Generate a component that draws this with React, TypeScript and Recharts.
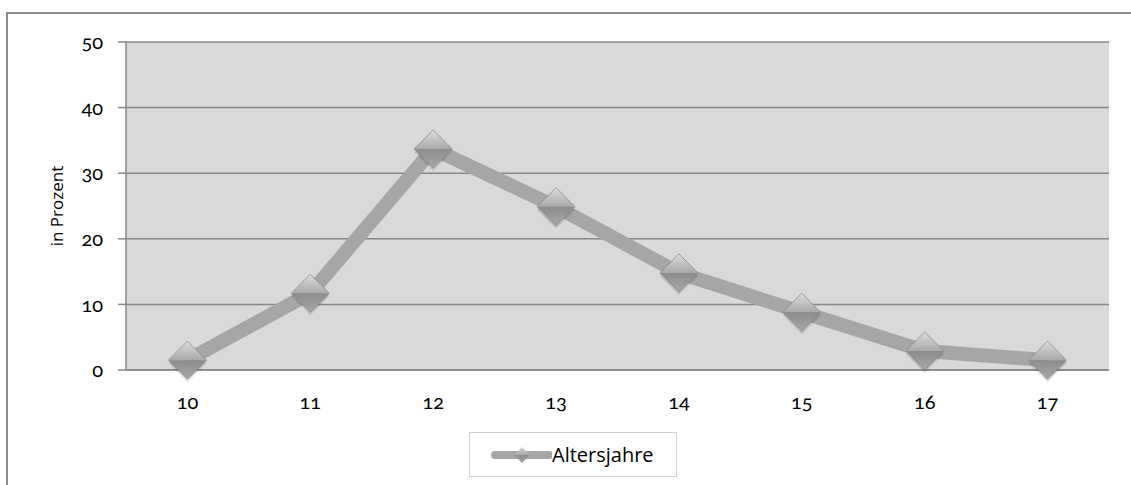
import React from 'react';
import { LineChart, Line, XAxis, YAxis, CartesianGrid, Label } from 'recharts';

const ages = [10, 11, 12, 13, 14, 15, 16, 17];
const percent = [1.5, 11.7, 33.7, 24.9, 14.8, 8.8, 2.9, 1.5];
const yTicks = [0, 10, 20, 30, 40, 50];
const boundaryTicks = [9.5, 10.5, 11.5, 12.5, 13.5, 14.5, 15.5, 16.5, 17.5];
const seriesName = 'Altersjahre';
const yTitle = 'in Prozent';

const data = ages.map((a, i) => ({ age: a, value: percent[i] }));

const FONT_NUM = 'Lato, "Open Sans", sans-serif';
const FONT_TXT = '"Open Sans", "Noto Sans", sans-serif';

const R = 19;

const Diamond = (props: any) => {
  const { cx, cy } = props;
  if (cx == null || cy == null) return null;
  const r = R;
  return (
    <g>
      <polygon
        points={`${cx},${cy - r + 3} ${cx + r},${cy + 3} ${cx},${cy + r + 3} ${cx - r},${cy + 3}`}
        fill="#000"
        opacity={0.12}
      />
      <polygon points={`${cx},${cy - r} ${cx + r},${cy} ${cx - r},${cy}`} fill="url(#dTop)" />
      <polygon points={`${cx - r},${cy} ${cx + r},${cy} ${cx},${cy + r}`} fill="url(#dBot)" />
      <polygon
        points={`${cx},${cy - r} ${cx + r},${cy} ${cx},${cy + r} ${cx - r},${cy}`}
        fill="none"
        stroke="#8a8a8a"
        strokeWidth={0.8}
      />
    </g>
  );
};

const renderDot = (props: any) => <Diamond key={props.index} cx={props.cx} cy={props.cy} />;

const LegendBox = () => (
  <div
    style={{
      position: 'absolute',
      left: 469,
      top: 432,
      width: 208,
      height: 45,
      border: '1px solid #d0d0d0',
      background: '#fff',
      boxSizing: 'border-box',
      display: 'flex',
      alignItems: 'center',
    }}
  >
    <svg width={82} height={43} style={{ display: 'block' }}>
      <defs>
        <linearGradient id="lTop" x1="0" y1="0" x2="0" y2="1">
          <stop offset="0" stopColor="#d8d8d8" />
          <stop offset="1" stopColor="#a8a8a8" />
        </linearGradient>
        <linearGradient id="lBot" x1="0" y1="0" x2="0" y2="1">
          <stop offset="0" stopColor="#8e8e8e" />
          <stop offset="1" stopColor="#a5a5a5" />
        </linearGradient>
      </defs>
      <line x1={25} y1={22} x2={79} y2={22} stroke="#a6a6a6" strokeWidth={8} strokeLinecap="round" />
      <polygon points="52,14 60,22 44,22" fill="url(#lTop)" />
      <polygon points="44,22 60,22 52,30" fill="url(#lBot)" />
    </svg>
    <span style={{ fontFamily: FONT_TXT, fontSize: 20, color: '#000' }}>{seriesName}</span>
  </div>
);

const numTick = { fontFamily: FONT_NUM, fontSize: 20, fill: '#000', style: { fontVariantNumeric: 'oldstyle-nums', fontFeatureSettings: '"onum" 1' } };

export default function App() {
  return (
    <div style={{ position: 'absolute', left: 0, top: 0, width: 1131, height: 485, background: '#fff' }}>
      <div
        style={{
          position: 'absolute',
          left: 6,
          top: 12,
          width: 1125,
          height: 473,
          borderLeft: '2px solid #8c8c8c',
          borderTop: '2px solid #8c8c8c',
          boxSizing: 'border-box',
        }}
      />
      <div style={{ position: 'absolute', left: 0, top: 0 }}>
        <LineChart width={1131} height={485} data={data} margin={{ top: 42, right: 22, bottom: 84, left: 26 }}>
          <defs>
            <linearGradient id="dTop" x1="0" y1="0" x2="0" y2="1">
              <stop offset="0" stopColor="#dcdcdc" />
              <stop offset="1" stopColor="#a9a9a9" />
            </linearGradient>
            <linearGradient id="dBot" x1="0" y1="0" x2="0" y2="1">
              <stop offset="0" stopColor="#8c8c8c" />
              <stop offset="1" stopColor="#a8a8a8" />
            </linearGradient>
          </defs>
          <CartesianGrid
            vertical={false}
            fill="#d9d9d9"
            stroke="#878787"
            strokeWidth={1.5}
            horizontalValues={yTicks}
          />
          <XAxis
            dataKey="age"
            type="number"
            domain={[9.5, 17.5]}
            ticks={ages}
            allowDataOverflow
            tickLine={false}
            axisLine={{ stroke: '#878787', strokeWidth: 1.5 }}
            tick={numTick}
            tickMargin={19}
            height={30}
            interval={0}
          />
          <XAxis
            xAxisId="b"
            dataKey="age"
            type="number"
            domain={[9.5, 17.5]}
            ticks={boundaryTicks}
            allowDataOverflow
            tick={false}
            tickSize={8}
            tickLine={{ stroke: '#878787', strokeWidth: 1.5 }}
            axisLine={false}
            height={1}
            interval={0}
          />
          <YAxis
            width={100}
            domain={[0, 50]}
            ticks={yTicks}
            interval={0}
            tickSize={8}
            tickLine={{ stroke: '#878787', strokeWidth: 1.5 }}
            axisLine={{ stroke: '#878787', strokeWidth: 1.5 }}
            tick={numTick}
            tickMargin={15}
          >
            <Label
              value={yTitle}
              angle={-90}
              position="insideLeft"
              offset={31}
              style={{ fontFamily: FONT_TXT, fontSize: 17, fill: '#000', textAnchor: 'middle' }}
            />
          </YAxis>
          <Line
            type="linear"
            dataKey="value"
            name={seriesName}
            stroke="#a6a6a6"
            strokeWidth={14}
            dot={renderDot}
            activeDot={false}
            isAnimationActive={false}
          />
        </LineChart>
      </div>
      <LegendBox />
    </div>
  );
}
